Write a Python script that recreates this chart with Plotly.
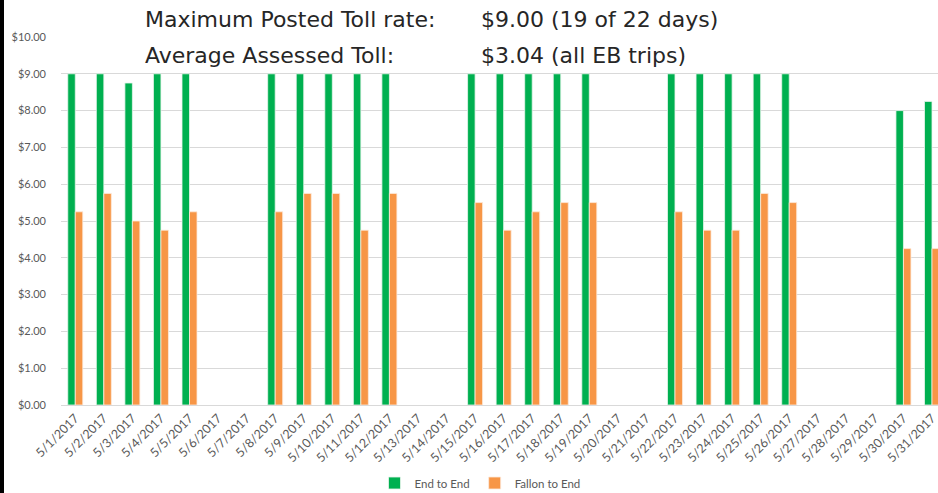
import plotly.graph_objects as go

dates = [f"5/{d}/2017" for d in range(1, 32)]
end_to_end = [9.00, 9.00, 8.75, 9.00, 9.00, None, None,
              9.00, 9.00, 9.00, 9.00, 9.00, None, None,
              9.00, 9.00, 9.00, 9.00, 9.00, None, None,
              9.00, 9.00, 9.00, 9.00, 9.00, None, None, None,
              8.00, 8.25]
fallon_to_end = [5.25, 5.75, 5.00, 4.75, 5.25, None, None,
                 5.25, 5.75, 5.75, 4.75, 5.75, None, None,
                 5.50, 4.75, 5.25, 5.50, 5.50, None, None,
                 5.25, 4.75, 4.75, 5.75, 5.50, None, None, None,
                 4.25, 4.25]
y_ticks = [0, 1, 2, 3, 4, 5, 6, 7, 8, 9, 10]
y_tick_text = [f"${v:.2f}" for v in y_ticks]

W, H = 938, 493
ML, MR, MT, MB = 61, 0, 37, 88
pw = W - ML - MR
ph = H - MT - MB

def px_x(x):
    return (x - ML) / pw

def px_y(y):
    return (H - MB - y) / ph

FONT = "Lato"
GRAY = "#595959"

fig = go.Figure()
fig.add_trace(go.Bar(x=dates, y=end_to_end, name="End to End",
                     marker=dict(color="#00B050", line=dict(color="#E8F5EC", width=0.8))))
fig.add_trace(go.Bar(x=dates, y=fallon_to_end, name="Fallon to End",
                     marker=dict(color="#F79646", line=dict(color="#FDEBDD", width=0.8))))

fig.update_layout(
    width=W, height=H,
    margin=dict(l=ML, r=MR, t=MT, b=MB, autoexpand=False),
    paper_bgcolor="white", plot_bgcolor="white",
    barmode="group", bargap=0.475, bargroupgap=0.0,
    font=dict(family=FONT, color=GRAY, size=11),
    showlegend=True,
    legend=dict(orientation="h", x=px_x(480), xanchor="center",
                y=px_y(483), yanchor="middle", itemwidth=30,
                font=dict(family=FONT, size=11.5, color=GRAY),
                bgcolor="rgba(0,0,0,0)", itemclick=False),
    xaxis=dict(type="category", range=[-0.5, 30.21], tickangle=-45,
               showgrid=False, showline=True, linecolor="#D9D9D9", linewidth=1,
               ticks="", tickfont=dict(family=FONT, size=12.5, color=GRAY),
               fixedrange=True),
    yaxis=dict(range=[0, 10], tickvals=y_ticks, ticktext=y_tick_text,
               showgrid=True, gridcolor="#D9D9D9", gridwidth=1,
               zeroline=False, showline=False, ticks="", ticklabelstandoff=14,
               tickfont=dict(family=FONT, size=11, color=GRAY),
               fixedrange=True),
)

title_font = dict(family="DejaVu Sans", size=22, color="#262626")
ann = [
    ("Maximum Posted Toll rate:", 143, 20),
    ("$9.00 (19 of 22 days)", 479, 20),
    ("Average Assessed Toll:", 143, 55.5),
    ("$3.04 (all EB trips)", 479, 55.5),
]
for txt, x, y in ann:
    fig.add_annotation(text=txt, xref="paper", yref="paper",
                       x=px_x(x), y=px_y(y), xanchor="left", yanchor="middle",
                       showarrow=False, font=title_font)

# dark frame edge on the left side of the picture
fig.add_shape(type="rect", xref="paper", yref="paper",
              x0=px_x(0), x1=px_x(4), y0=-0.3, y1=1.2,
              fillcolor="black", line=dict(width=0), layer="above")

fig.write_html("out.html",
               config={"displayModeBar": False},
               post_script="document.body.style.margin='0';document.body.style.overflow='hidden';")
